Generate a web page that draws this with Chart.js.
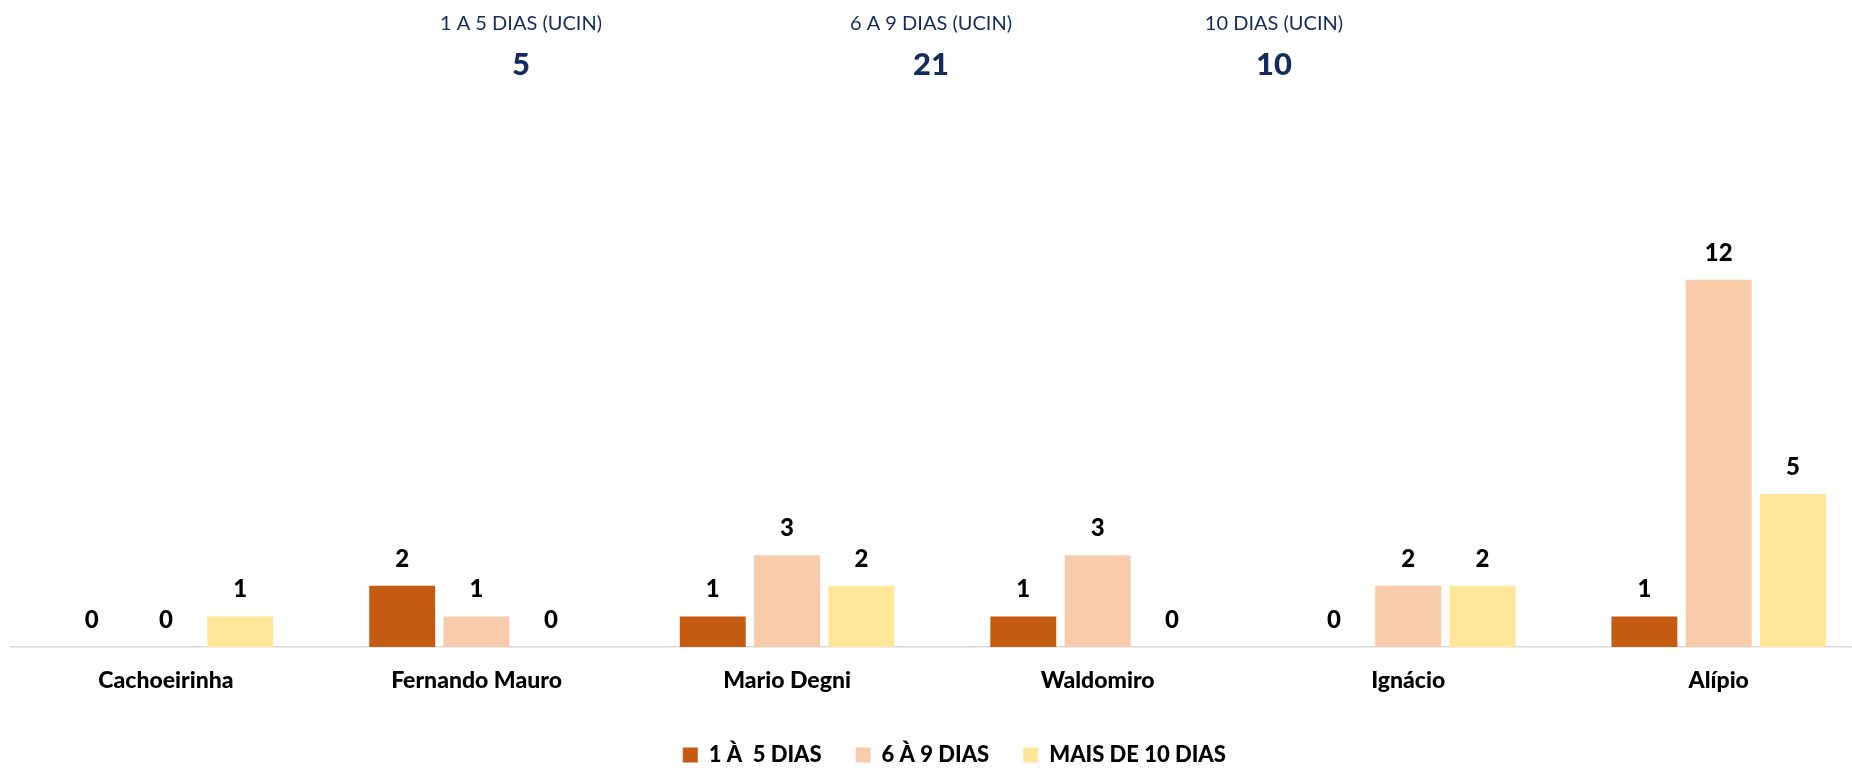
<!DOCTYPE html>
<html>
<head>
<meta charset="utf-8">
<script src="https://cdn.jsdelivr.net/npm/chart.js@4.4.1/dist/chart.umd.min.js"></script>
<style>
  html, body { margin: 0; padding: 0; background: #ffffff; overflow: hidden; }
  #wrap { width: 1880px; height: 776px; }
</style>
</head>
<body>
<div id="wrap"><canvas id="c" width="1880" height="776"></canvas></div>
<script>
// ---- data ----
const categories = ['Cachoeirinha', 'Fernando Mauro', 'Mario Degni', 'Waldomiro', 'Ignácio', 'Alípio'];
const seriesNames = ['1 À  5 DIAS', '6 À 9 DIAS', 'MAIS DE 10 DIAS'];
const dias1a5 = [0, 2, 1, 1, 0, 1];
const dias6a9 = [0, 1, 3, 3, 2, 12];
const dias10mais = [1, 0, 2, 0, 2, 5];
const headerLabels = ['1 A 5 DIAS (UCIN)', '6 A 9 DIAS (UCIN)', '10 DIAS (UCIN)'];
const headerValues = [5, 21, 10];

// ---- styles ----
const colors = ['#C55A11', '#F8CBAD', '#FFE699'];
const navy = '#142B5E';
const headerX = [521, 931, 1274];

const dataLabelPlugin = {
  id: 'dataLabels',
  afterDatasetsDraw(chart) {
    const ctx = chart.ctx;
    ctx.save();
    ctx.font = '900 24px Lato';
    ctx.fillStyle = '#000000';
    ctx.textAlign = 'center';
    ctx.textBaseline = 'middle';
    chart.data.datasets.forEach((ds, i) => {
      const meta = chart.getDatasetMeta(i);
      meta.data.forEach((bar, j) => {
        ctx.fillText(String(ds.data[j]), bar.x, bar.y - 27);
      });
    });
    ctx.restore();
  }
};

const headerPlugin = {
  id: 'header',
  afterDraw(chart) {
    const ctx = chart.ctx;
    ctx.save();
    ctx.fillStyle = navy;
    ctx.textAlign = 'center';
    ctx.textBaseline = 'middle';
    headerLabels.forEach((t, i) => {
      ctx.font = '20px Lato';
      ctx.fillText(t, headerX[i], 24);
      ctx.font = '900 31px Lato';
      ctx.fillText(String(headerValues[i]), headerX[i], 65);
    });
    ctx.restore();
  }
};

const legendShift = {
  id: 'legendShift',
  afterLayout(chart) {
    const l = chart.legend;
    if (l) { l.left += 12; l.right += 12; }
  }
};

new Chart(document.getElementById('c'), {
  type: 'bar',
  data: {
    labels: categories,
    datasets: [
      { label: seriesNames[0], data: dias1a5, backgroundColor: colors[0] },
      { label: seriesNames[1], data: dias6a9, backgroundColor: colors[1] },
      { label: seriesNames[2], data: dias10mais, backgroundColor: colors[2] }
    ]
  },
  options: {
    responsive: false,
    animation: false,
    devicePixelRatio: 1,
    layout: { padding: { top: 218.6, left: 10.7, right: 6, bottom: 0 } },
    datasets: { bar: { categoryPercentage: 0.718, barPercentage: 0.887, borderWidth: 0 } },
    scales: {
      x: {
        grid: { display: false, drawTicks: false },
        border: { display: true, color: '#D9D9D9', width: 1.5 },
        ticks: { color: '#000000', font: { family: 'Lato', size: 23, weight: '900' }, padding: 20 },
        afterFit(scale) { scale.height = 63; }
      },
      y: {
        display: false,
        min: 0,
        max: 14
      }
    },
    plugins: {
      legend: {
        position: 'bottom',
        labels: {
          boxWidth: 15,
          boxHeight: 15,
          padding: 34,
          color: '#000000',
          font: { family: 'Lato', size: 22, weight: '900' }
        }
      },
      tooltip: { enabled: false }
    }
  },
  plugins: [dataLabelPlugin, headerPlugin, legendShift]
});
</script>
</body>
</html>
